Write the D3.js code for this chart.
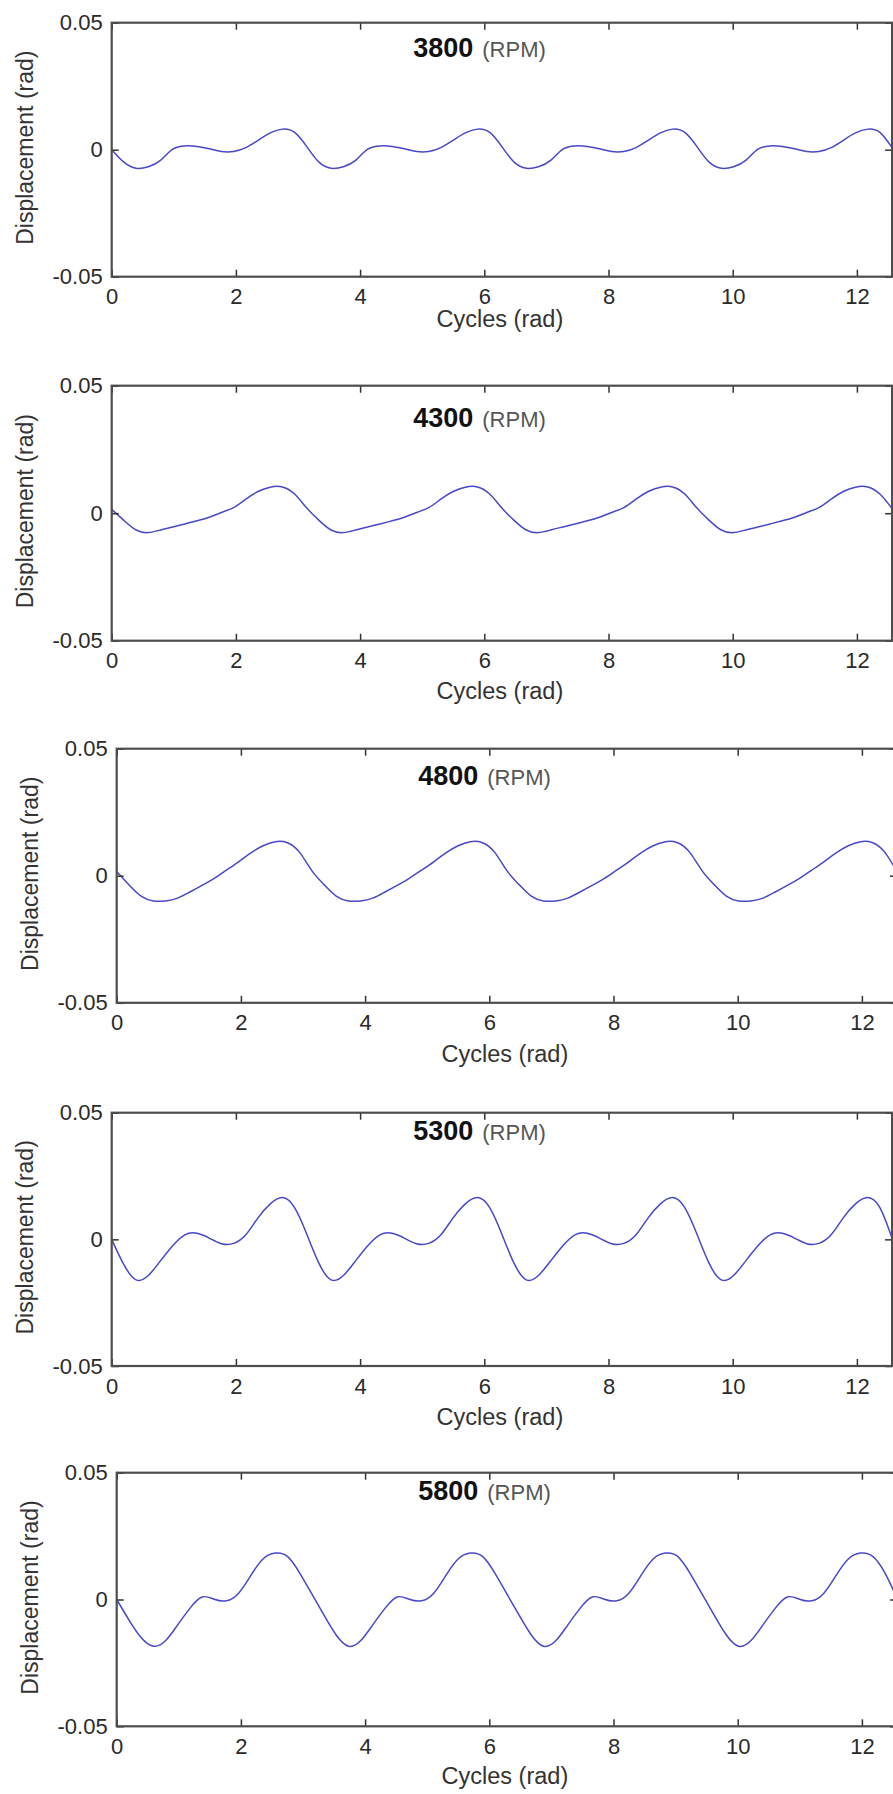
<!DOCTYPE html>
<html>
<head>
<meta charset="utf-8">
<script src="https://cdn.jsdelivr.net/npm/d3@7"></script>
<style>
  body { margin: 0; background: #fff; }
  svg { display: block; }
</style>
</head>
<body>
<svg id="chart" width="893" height="1794"></svg>
<script>
// Crank angle samples (rad), shared by every speed
const cycles = [
  0, 0.196, 0.393, 0.589, 0.785, 0.982, 1.178, 1.374, 1.571, 1.767, 1.963, 2.160, 2.356, 2.553, 2.749, 2.945,
  3.142, 3.338, 3.534, 3.731, 3.927, 4.123, 4.320, 4.516, 4.712, 4.909, 5.105, 5.301, 5.498, 5.694, 5.890, 6.087,
  6.283, 6.480, 6.676, 6.872, 7.069, 7.265, 7.461, 7.658, 7.854, 8.050, 8.247, 8.443, 8.639, 8.836, 9.032, 9.228,
  9.425, 9.621, 9.817, 10.014, 10.210, 10.407, 10.603, 10.799, 10.996, 11.192, 11.388, 11.585, 11.781, 11.977, 12.174, 12.370,
  12.566
];

const speeds = [3800, 4300, 4800, 5300, 5800];

// Torsional displacement (rad) at each sample, one array per engine speed
const disp3800 = [
  0.0000, -0.0049, -0.0073, -0.0067, -0.0042, 0.0002, 0.0015, 0.0013, 0.0004, -0.0007, -0.0007, 0.0008, 0.0037, 0.0066, 0.0081, 0.0068,
  0.0012, -0.0049, -0.0073, -0.0067, -0.0042, 0.0002, 0.0015, 0.0013, 0.0004, -0.0007, -0.0007, 0.0008, 0.0037, 0.0066, 0.0081, 0.0068,
  0.0012, -0.0049, -0.0073, -0.0067, -0.0042, 0.0002, 0.0015, 0.0013, 0.0004, -0.0007, -0.0007, 0.0008, 0.0037, 0.0066, 0.0081, 0.0068,
  0.0012, -0.0049, -0.0073, -0.0067, -0.0042, 0.0002, 0.0015, 0.0013, 0.0004, -0.0007, -0.0007, 0.0008, 0.0037, 0.0066, 0.0081, 0.0068,
  0.0008
];
const disp4300 = [
  0.0015, -0.0028, -0.0066, -0.0076, -0.0066, -0.0054, -0.0042, -0.0030, -0.0016, 0.0003, 0.0022, 0.0055, 0.0085, 0.0102, 0.0103, 0.0075,
  0.0020, -0.0028, -0.0066, -0.0076, -0.0066, -0.0054, -0.0042, -0.0030, -0.0016, 0.0003, 0.0022, 0.0055, 0.0085, 0.0102, 0.0103, 0.0075,
  0.0020, -0.0028, -0.0066, -0.0076, -0.0066, -0.0054, -0.0042, -0.0030, -0.0016, 0.0003, 0.0022, 0.0055, 0.0085, 0.0102, 0.0103, 0.0075,
  0.0020, -0.0028, -0.0066, -0.0076, -0.0066, -0.0054, -0.0042, -0.0030, -0.0016, 0.0003, 0.0022, 0.0055, 0.0085, 0.0102, 0.0103, 0.0075,
  0.0018
];
const disp4800 = [
  0.0017, -0.0035, -0.0080, -0.0099, -0.0099, -0.0088, -0.0064, -0.0038, -0.0010, 0.0022, 0.0055, 0.0090, 0.0118, 0.0134, 0.0130, 0.0092,
  0.0020, -0.0035, -0.0080, -0.0099, -0.0099, -0.0088, -0.0064, -0.0038, -0.0010, 0.0022, 0.0055, 0.0090, 0.0118, 0.0134, 0.0130, 0.0092,
  0.0020, -0.0035, -0.0080, -0.0099, -0.0099, -0.0088, -0.0064, -0.0038, -0.0010, 0.0022, 0.0055, 0.0090, 0.0118, 0.0134, 0.0130, 0.0092,
  0.0020, -0.0035, -0.0080, -0.0099, -0.0099, -0.0088, -0.0064, -0.0038, -0.0010, 0.0022, 0.0055, 0.0090, 0.0118, 0.0134, 0.0130, 0.0092,
  0.0015
];
const disp5300 = [
  0.0000, -0.0100, -0.0160, -0.0143, -0.0085, -0.0025, 0.0018, 0.0024, 0.0005, -0.0017, -0.0016, 0.0018, 0.0085, 0.0140, 0.0165, 0.0125,
  0.0020, -0.0095, -0.0160, -0.0143, -0.0085, -0.0025, 0.0018, 0.0024, 0.0005, -0.0017, -0.0016, 0.0018, 0.0085, 0.0140, 0.0165, 0.0125,
  0.0020, -0.0095, -0.0160, -0.0143, -0.0085, -0.0025, 0.0018, 0.0024, 0.0005, -0.0017, -0.0016, 0.0018, 0.0085, 0.0140, 0.0165, 0.0125,
  0.0020, -0.0095, -0.0160, -0.0143, -0.0085, -0.0025, 0.0018, 0.0024, 0.0005, -0.0017, -0.0016, 0.0018, 0.0085, 0.0140, 0.0165, 0.0125,
  0.0004
];
const disp5800 = [
  0.0000, -0.0080, -0.0150, -0.0184, -0.0163, -0.0100, -0.0035, 0.0010, 0.0001, -0.0005, 0.0025, 0.0095, 0.0160, 0.0183, 0.0170, 0.0105,
  0.0022, -0.0062, -0.0140, -0.0184, -0.0163, -0.0100, -0.0035, 0.0010, 0.0001, -0.0005, 0.0025, 0.0095, 0.0160, 0.0183, 0.0170, 0.0105,
  0.0022, -0.0062, -0.0140, -0.0184, -0.0163, -0.0100, -0.0035, 0.0010, 0.0001, -0.0005, 0.0025, 0.0095, 0.0160, 0.0183, 0.0170, 0.0105,
  0.0022, -0.0062, -0.0140, -0.0184, -0.0163, -0.0100, -0.0035, 0.0010, 0.0001, -0.0005, 0.0025, 0.0095, 0.0160, 0.0183, 0.0170, 0.0105,
  0.0005
];

const xTicks = [0, 2, 4, 6, 8, 10, 12];
const yTicks = [-0.05, 0, 0.05];
const yTickLabels = ["-0.05", "0", "0.05"];

const series = [disp3800, disp4300, disp4800, disp5300, disp5800];

// Placement of each stacked subplot (pixels)
const frames = [
  { left: 111.7, top: 22.7,   bottom: 276.7,  titleDy: 34.6, xLabelDy: 50.6, yLabelDx: 78.5 },
  { left: 111.7, top: 385.7,  bottom: 640.7,  titleDy: 41.6, xLabelDy: 58.5, yLabelDx: 78.5 },
  { left: 116.7, top: 748.7,  bottom: 1002.8, titleDy: 36.3, xLabelDy: 59.0, yLabelDx: 79.0 },
  { left: 111.7, top: 1112.7, bottom: 1366.0, titleDy: 27.3, xLabelDy: 59.0, yLabelDx: 78.5 },
  { left: 116.7, top: 1472.7, bottom: 1726.3, titleDy: 27.3, xLabelDy: 58.0, yLabelDx: 79.0 }
];

const pxPerRad = 62.1;
const xMax = 4 * Math.PI;
const fontFam = "'Liberation Sans', Arial, sans-serif";

const svg = d3.select("#chart");

frames.forEach((f, i) => {
  const width = xMax * pxPerRad;
  const x = d3.scaleLinear().domain([0, xMax]).range([f.left, f.left + width]);
  const y = d3.scaleLinear().domain([-0.05, 0.05]).range([f.bottom, f.top]);

  const g = svg.append("g").attr("class", "subplot");

  // displacement trace
  const pts = cycles.map((c, j) => [c, series[i][j]]);
  const line = d3.line()
    .x(d => x(d[0]))
    .y(d => y(d[1]))
    .curve(d3.curveNatural);
  g.append("path")
    .datum(pts)
    .attr("d", line)
    .attr("fill", "none")
    .attr("stroke", "#4848c8")
    .attr("stroke-width", 1.5)
    .attr("stroke-linejoin", "round");

  // axes with inward ticks on all four sides
  const tickLen = 7;
  const bottomAxis = g.append("g")
    .attr("transform", `translate(0,${f.bottom})`)
    .call(d3.axisBottom(x).tickValues(xTicks).tickSizeInner(-tickLen).tickSizeOuter(0).tickPadding(12).tickFormat(d3.format("d")));
  const topAxis = g.append("g")
    .attr("transform", `translate(0,${f.top})`)
    .call(d3.axisTop(x).tickValues(xTicks).tickSizeInner(-tickLen).tickSizeOuter(0).tickFormat(""));
  const leftAxis = g.append("g")
    .attr("transform", `translate(${f.left},0)`)
    .call(d3.axisLeft(y).tickValues(yTicks).tickSizeInner(-tickLen).tickSizeOuter(0).tickPadding(9)
      .tickFormat((d, k) => yTickLabels[k]));
  const rightAxis = g.append("g")
    .attr("transform", `translate(${f.left + width},0)`)
    .call(d3.axisRight(y).tickValues(yTicks).tickSizeInner(-tickLen).tickSizeOuter(0).tickFormat(""));

  [bottomAxis, topAxis, leftAxis, rightAxis].forEach(a => {
    a.select(".domain").remove();
    a.selectAll(".tick line").attr("stroke", "#333").attr("stroke-width", 1.5);
    a.selectAll(".tick text")
      .attr("fill", "#2a2a2a")
      .style("font-family", fontFam)
      .style("font-size", "22px");
  });

  // axes box
  g.append("rect")
    .attr("x", f.left)
    .attr("y", f.top)
    .attr("width", width)
    .attr("height", f.bottom - f.top)
    .attr("fill", "none")
    .attr("stroke", "#4d4d4d")
    .attr("stroke-width", 2.2);

  // engine speed annotation
  const title = g.append("text")
    .attr("x", x(4.855))
    .attr("y", f.top + f.titleDy)
    .style("font-family", fontFam);
  title.append("tspan")
    .attr("font-weight", "bold")
    .attr("font-size", "27px")
    .attr("fill", "#111")
    .text(speeds[i]);
  title.append("tspan")
    .attr("dx", 9)
    .attr("font-size", "22px")
    .attr("fill", "#555")
    .text("(RPM)");

  // axis titles
  g.append("text")
    .attr("x", f.left + width / 2 - 2)
    .attr("y", f.bottom + f.xLabelDy)
    .attr("text-anchor", "middle")
    .style("font-family", fontFam)
    .style("font-size", "23.5px")
    .attr("fill", "#333")
    .text("Cycles (rad)");

  const cy = (f.top + f.bottom) / 2 - 2;
  const lx = f.left - f.yLabelDx;
  g.append("text")
    .attr("transform", `translate(${lx},${cy}) rotate(-90)`)
    .attr("text-anchor", "middle")
    .style("font-family", fontFam)
    .style("font-size", "23px")
    .attr("fill", "#333")
    .text("Displacement (rad)");
});
</script>
</body>
</html>
